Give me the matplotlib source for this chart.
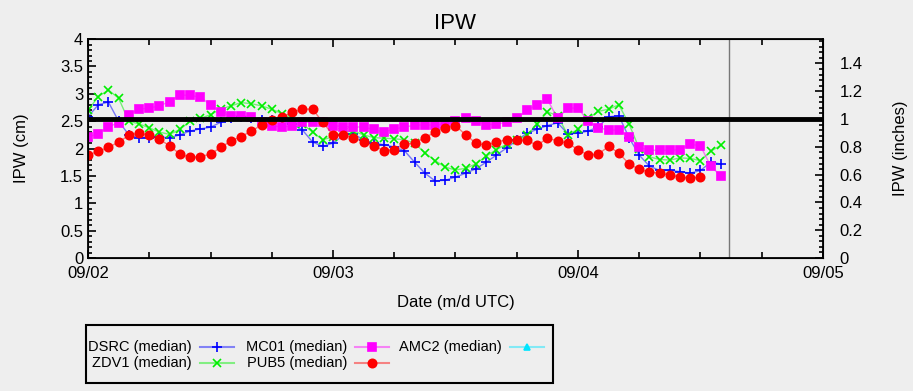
import matplotlib
matplotlib.use('Agg')
import matplotlib.pyplot as plt
import matplotlib.dates as mdates
from matplotlib.ticker import MultipleLocator, FormatStrFormatter
from matplotlib.lines import Line2D
from matplotlib.patches import Rectangle
import pandas as pd

plt.rcParams['font.family'] = ['Liberation Sans', 'DejaVu Sans']

# hourly medians starting 09/02 00 UTC (cm)
dsrc = [2.58, 2.80, 2.85, 2.50, 2.25, 2.20, 2.20, 2.21, 2.20, 2.25, 2.32, 2.36, 2.39,
        2.48, 2.55, 2.58, 2.56, 2.53, 2.52, 2.52, 2.45, 2.34, 2.12, 2.04, 2.10, 2.24,
        2.27, 2.16, 2.10, 2.07, 2.03, 1.96, 1.75, 1.55, 1.41, 1.42, 1.48, 1.55, 1.63,
        1.75, 1.88, 2.01, 2.15, 2.28, 2.35, 2.42, 2.47, 2.27, 2.28, 2.32, 2.40, 2.58,
        2.60, 2.20, 1.88, 1.68, 1.60, 1.60, 1.58, 1.55, 1.60, 1.75, 1.72]
zdv1 = [2.70, 2.95, 3.07, 2.92, 2.50, 2.45, 2.38, 2.30, 2.26, 2.35, 2.50, 2.55, 2.62,
        2.72, 2.78, 2.84, 2.82, 2.78, 2.72, 2.64, 2.55, 2.45, 2.30, 2.16, 2.22, 2.30,
        2.32, 2.25, 2.20, 2.19, 2.18, 2.16, 2.10, 1.92, 1.78, 1.66, 1.61, 1.64, 1.72,
        1.86, 1.98, 2.08, 2.16, 2.24, 2.45, 2.67, 2.60, 2.25, 2.35, 2.55, 2.68, 2.72,
        2.80, 2.45, 2.00, 1.85, 1.80, 1.79, 1.83, 1.82, 1.78, 1.95, 2.06]
mc01 = [2.21, 2.27, 2.40, 2.47, 2.62, 2.72, 2.74, 2.78, 2.86, 2.98, 2.97, 2.94, 2.80,
        2.66, 2.60, 2.60, 2.58, 2.48, 2.42, 2.39, 2.42, 2.48, 2.48, 2.48, 2.42, 2.40,
        2.40, 2.39, 2.35, 2.30, 2.36, 2.39, 2.43, 2.43, 2.43, 2.45, 2.50, 2.55, 2.50,
        2.43, 2.45, 2.48, 2.55, 2.70, 2.80, 2.90, 2.55, 2.74, 2.74, 2.50, 2.38, 2.34,
        2.34, 2.22, 2.02, 1.97, 1.97, 1.97, 1.98, 2.08, 2.05, 1.68, 1.50]
pub5 = [1.88, 1.95, 2.02, 2.12, 2.24, 2.29, 2.24, 2.17, 2.05, 1.90, 1.84, 1.85, 1.90,
        2.02, 2.14, 2.22, 2.32, 2.43, 2.52, 2.58, 2.66, 2.72, 2.72, 2.48, 2.25, 2.24,
        2.20, 2.12, 2.05, 1.96, 1.98, 2.08, 2.10, 2.20, 2.30, 2.38, 2.42, 2.25, 2.10,
        2.06, 2.12, 2.16, 2.16, 2.15, 2.06, 2.19, 2.14, 2.10, 1.98, 1.88, 1.90, 2.04,
        1.92, 1.72, 1.62, 1.57, 1.55, 1.52, 1.48, 1.46, 1.48]

labels = ['DSRC (median)', 'ZDV1 (median)', 'MC01 (median)', 'PUB5 (median)', 'AMC2 (median)']
values = [dsrc, zdv1, mc01, pub5, []]
colors = ['#0000ff', '#00ee00', '#ff00ff', '#ff0000', '#00e5ff']
markers = ['+', 'x', 's', 'o', '^']
msizes = [7, 6, 6, 6, 5]

start = pd.Timestamp('2013-09-02 00:00')
threshold_cm = 2.54
now_line = pd.Timestamp('2013-09-04 14:48')

fig = plt.figure(figsize=(9.13, 3.91), dpi=100, facecolor='#eeeeee')
ax = fig.add_axes([0.0964, 0.340, 0.805, 0.560])
ax.set_facecolor('#eeeeee')

for vals, color, marker, ms in zip(values, colors, markers, msizes):
    if not vals:
        continue
    t = pd.date_range(start, periods=len(vals), freq='h')
    ax.plot(t, vals, color=color, alpha=0.5, linewidth=1)
    ax.plot(t, vals, linestyle='none', marker=marker, color=color,
            markersize=ms, markeredgewidth=1.2)

ax.axhline(threshold_cm, color='black', linewidth=3.5, zorder=5)
ax.axvline(now_line, color='#777777', linewidth=1)

ax.set_xlim(start, start + pd.Timedelta(days=3))
ax.set_ylim(0, 4)
ax.xaxis.set_major_locator(mdates.DayLocator())
ax.xaxis.set_major_formatter(mdates.DateFormatter('%m/%d'))
ax.xaxis.set_minor_locator(mdates.HourLocator(byhour=[6, 12, 18]))
ax.yaxis.set_major_locator(MultipleLocator(0.5))
ax.yaxis.set_major_formatter(FormatStrFormatter('%g'))
ax.yaxis.set_minor_locator(MultipleLocator(0.1))
ax.tick_params(which='both', direction='in', top=True, labelsize=12, width=1.2)
ax.tick_params(axis='x', which='major', length=6, pad=6)
ax.tick_params(axis='x', which='minor', length=4)
ax.tick_params(axis='y', which='major', length=6)
ax.tick_params(axis='y', which='minor', length=3)
for s in ax.spines.values():
    s.set_linewidth(1.3)
ax.set_xlabel('Date (m/d UTC)', fontsize=12, labelpad=10)
ax.set_ylabel('IPW (cm)', fontsize=12, labelpad=22)
ax.set_title('IPW', fontsize=16, pad=7)

ax2 = ax.twinx()
ax2.set_ylim(0, 4 / 2.54)
ax2.set_yticks([0, 0.2, 0.4, 0.6, 0.8, 1, 1.2, 1.4])
ax2.yaxis.set_major_formatter(FormatStrFormatter('%g'))
ax2.yaxis.set_minor_locator(MultipleLocator(0.04))
ax2.tick_params(which='both', direction='in', labelsize=12, width=1.2)
ax2.tick_params(which='major', length=6, pad=12)
ax2.tick_params(which='minor', length=3)
ax2.set_ylabel('IPW (inches)', fontsize=12, labelpad=22)

# legend box drawn by hand: label right-aligned, then sample line
W, H = 913.0, 391.0
fig.patches.append(Rectangle((86 / W, 1 - 383 / H), (553 - 86) / W, (383 - 325) / H,
                             transform=fig.transFigure, fill=False,
                             edgecolor='black', linewidth=1.5))
col_x = [192, 347, 502]
row_y = [347, 363]
for i, (lab, color, marker, ms) in enumerate(zip(labels, colors, markers, msizes)):
    cx = col_x[i // 2]
    cy = 1 - row_y[i % 2] / H
    fig.text(cx / W, cy, lab, ha='right', va='center', fontsize=10.5)
    fig.add_artist(Line2D([(cx + 8) / W, (cx + 42) / W], [cy, cy], color=color,
                          alpha=0.45, linewidth=1.5, transform=fig.transFigure))
    fig.add_artist(Line2D([(cx + 25) / W], [cy], color=color, marker=marker,
                          markersize=ms, markeredgewidth=1.2, linestyle='none',
                          transform=fig.transFigure))

fig.savefig('out.png', dpi=100, facecolor=fig.get_facecolor())
